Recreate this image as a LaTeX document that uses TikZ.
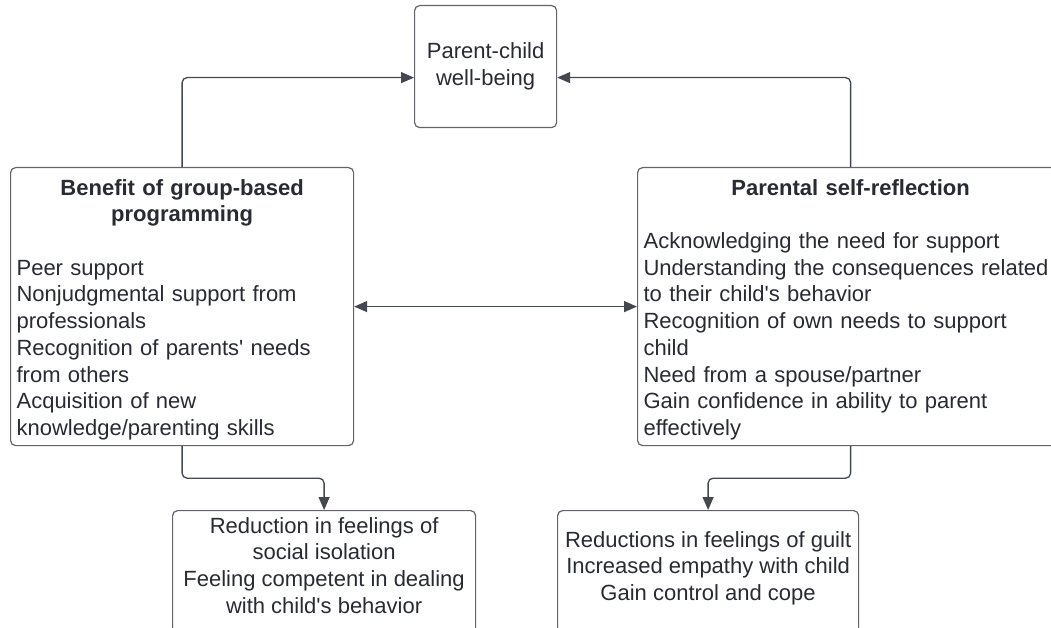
\documentclass[tikz,border=0pt]{standalone}
\usepackage{fontspec}
\setmainfont{Liberation Sans}[Ligatures=TeXOff]
\usetikzlibrary{arrows.meta}
\definecolor{txt}{RGB}{40,43,50}
\definecolor{bord}{RGB}{100,100,106}
\definecolor{conncol}{RGB}{68,72,80}
\begin{document}
\begin{tikzpicture}[x=1pt,y=-1pt,
  every node/.style={font=\fontsize{22}{26.7}\selectfont, text=txt},
  box/.style={draw=bord, line width=1.2pt, rounded corners=5pt, inner xsep=6pt, inner ysep=0pt, anchor=north west},
  conn/.style={draw=conncol, line width=1.3pt, rounded corners=5pt},
  tip/.style={-{Triangle[length=13pt,width=11pt]}},
  dtip/.style={{Triangle[length=13pt,width=11pt]}-{Triangle[length=13pt,width=11pt]}},
]
\useasboundingbox (0,0) rectangle (1051,628);
\clip (0,0) rectangle (1051,628);
\fill[white] (0,0) rectangle (1051,628);

\node[box, minimum width=142pt, minimum height=122pt, align=center] (T) at (414,5) {Parent-child\\well-being};

\node[box, text width=331pt, minimum width=343pt, minimum height=278pt, align=left] (L) at (10,167)
 {{\centering\bfseries\rule{0pt}{22pt}Benefit of group-based\\programming\par}\vspace{26.7pt}Peer support\\Nonjudgmental support from\\professionals\\Recognition of parents' needs\\from others\\Acquisition of new\\knowledge/parenting skills};

\node[box, text width=414pt, minimum width=426pt, minimum height=278pt, align=left] (R) at (637,167)
 {{\centering\bfseries\rule{0pt}{22pt}Parental self-reflection\par}\vspace{26.7pt}Acknowledging the need for support\\Understanding the consequences related\\to their child's behavior\\Recognition of own needs to support\\child\\Need from a spouse/partner\\Gain confidence in ability to parent\\effectively};

\node[box, minimum width=303pt, minimum height=122pt, align=center] (BL) at (172,510)
 {Reduction in feelings of\\social isolation\\Feeling competent in dealing\\with child's behavior\rule[-13pt]{0pt}{13pt}};

\node[box, minimum width=301pt, minimum height=122pt, align=center] (BR) at (557,510)
 {Reductions in feelings of guilt\\Increased empathy with child\\Gain control and cope\rule[-11.6pt]{0pt}{11.6pt}};

\draw[conn, tip] (L.north) |- ([yshift=-11pt]T.west);
\draw[conn, tip] (R.north) |- ([yshift=-11pt]T.east);
\draw[conn, dtip] (L.east) -- (R.west);
\draw[conn, tip] (L.south) -- ++(0,32) -| (BL.north);
\draw[conn, tip] (R.south) -- ++(0,32) -| (BR.north);
\end{tikzpicture}
\end{document}
